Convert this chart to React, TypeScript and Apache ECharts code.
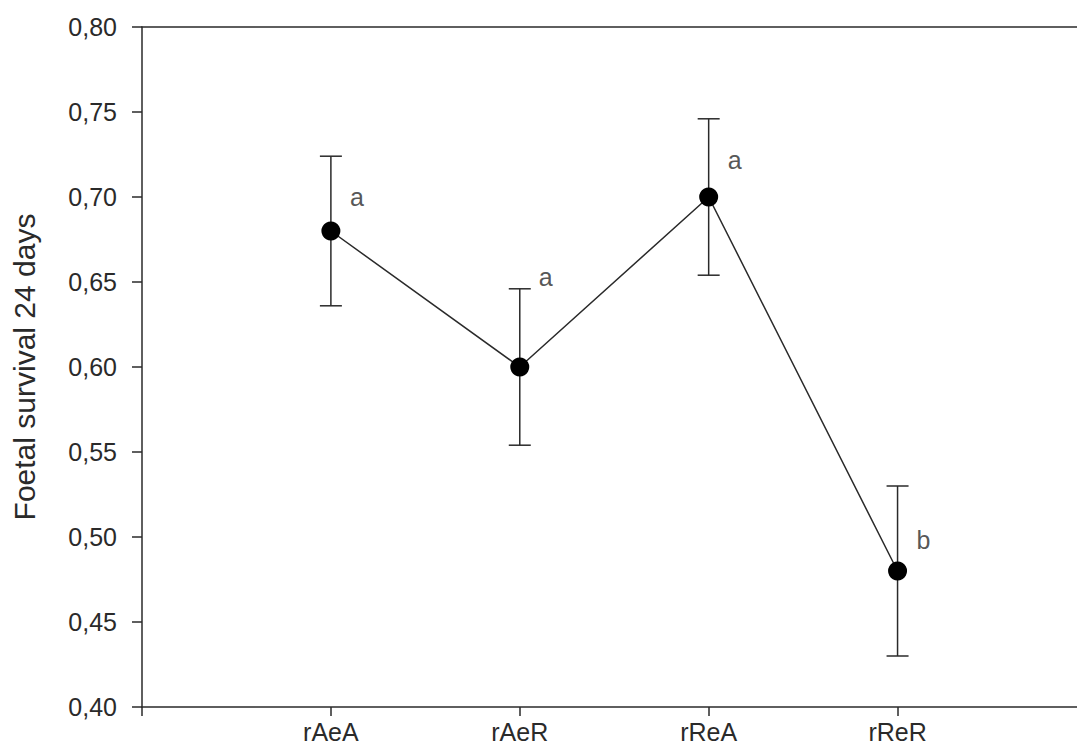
import React, { useEffect, useRef } from "react";
import * as echarts from "echarts";

const categories = ["rAeA", "rAeR", "rReA", "rReR"];
const means = [0.68, 0.6, 0.7, 0.48];
const upper = [0.724, 0.646, 0.746, 0.53];
const lower = [0.636, 0.554, 0.654, 0.43];
const letters = ["a", "a", "a", "b"];
const letterY = [0.7, 0.653, 0.722, 0.498];
const yTicks = [0.4, 0.45, 0.5, 0.55, 0.6, 0.65, 0.7, 0.75, 0.8];

const FONT = "Liberation Sans, Arial, Helvetica, sans-serif";
const INK = "#2a2a2a";

export default function App() {
  const ref = useRef<HTMLDivElement>(null);
  useEffect(() => {
    if (!ref.current) return;
    const chart = echarts.init(ref.current, null, { renderer: "svg" });
    const pos = categories.map((_, i) => i + 1);
    chart.setOption({
      animation: false,
      backgroundColor: "#ffffff",
      grid: { left: 142, right: 0, top: 27, bottom: 40, containLabel: false },
      xAxis: [
        {
          type: "value",
          min: 0,
          max: 4.95,
          interval: 1,
          position: "bottom",
          axisLine: { show: true, lineStyle: { color: INK, width: 1.5 } },
          axisTick: { show: true, length: 9, lineStyle: { color: INK, width: 1.5 } },
          axisLabel: {
            margin: 12,
            fontSize: 25,
            fontFamily: FONT,
            color: INK,
            showMaxLabel: false,
            formatter: (v: number) => {
              const i = Math.round(v) - 1;
              return i >= 0 && i < categories.length && Math.abs(v - Math.round(v)) < 1e-6 ? categories[i] : "";
            },
          },
          splitLine: { show: false },
        },
        {
          type: "value",
          min: 0,
          max: 4.95,
          position: "top",
          axisLine: { show: true, lineStyle: { color: INK, width: 1.5 } },
          axisTick: { show: false },
          axisLabel: { show: false },
          splitLine: { show: false },
        },
      ],
      yAxis: {
        type: "value",
        min: yTicks[0],
        max: yTicks[yTicks.length - 1],
        interval: 0.05,
        name: "Foetal survival 24 days",
        nameLocation: "middle",
        nameGap: 103,
        nameTextStyle: { fontSize: 30, fontFamily: FONT, color: INK },
        axisLine: { show: true, lineStyle: { color: INK, width: 1.5 } },
        axisTick: { show: true, length: 10, lineStyle: { color: INK, width: 1.5 } },
        axisLabel: {
          margin: 25,
          fontSize: 25,
          fontFamily: FONT,
          color: INK,
          formatter: (v: number) => v.toFixed(2).replace(".", ","),
        },
        splitLine: { show: false },
      },
      series: [
        {
          type: "custom",
          xAxisIndex: 0,
          z: 2,
          data: pos.map((p, i) => [p, lower[i], upper[i]]),
          encode: { x: 0, y: [1, 2] },
          renderItem: (params: any, api: any) => {
            const x = api.value(0);
            const lo = api.coord([x, api.value(1)]);
            const hi = api.coord([x, api.value(2)]);
            const cap = 11;
            const style = { stroke: INK, lineWidth: 1.5 };
            return {
              type: "group",
              children: [
                { type: "line", shape: { x1: lo[0], y1: lo[1], x2: hi[0], y2: hi[1] }, style },
                { type: "line", shape: { x1: hi[0] - cap, y1: hi[1], x2: hi[0] + cap, y2: hi[1] }, style },
                { type: "line", shape: { x1: lo[0] - cap, y1: lo[1], x2: lo[0] + cap, y2: lo[1] }, style },
              ],
            };
          },
        },
        {
          type: "line",
          xAxisIndex: 0,
          z: 3,
          data: pos.map((p, i) => [p, means[i]]),
          symbol: "circle",
          symbolSize: 19,
          itemStyle: { color: "#000000" },
          lineStyle: { color: INK, width: 1.5 },
        },
        {
          type: "scatter",
          xAxisIndex: 0,
          z: 4,
          symbolSize: 0,
          data: pos.map((p, i) => [p, letterY[i]]),
          label: {
            show: true,
            position: "inside",
            offset: [26, 0],
            fontSize: 25,
            fontFamily: FONT,
            color: INK,
            formatter: (p: any) => letters[p.dataIndex],
          },
        },
      ],
    });
    return () => chart.dispose();
  }, []);
  return (
    <div
      ref={ref}
      style={{ position: "absolute", left: 0, top: 0, width: 1077, height: 747 }}
    />
  );
}
